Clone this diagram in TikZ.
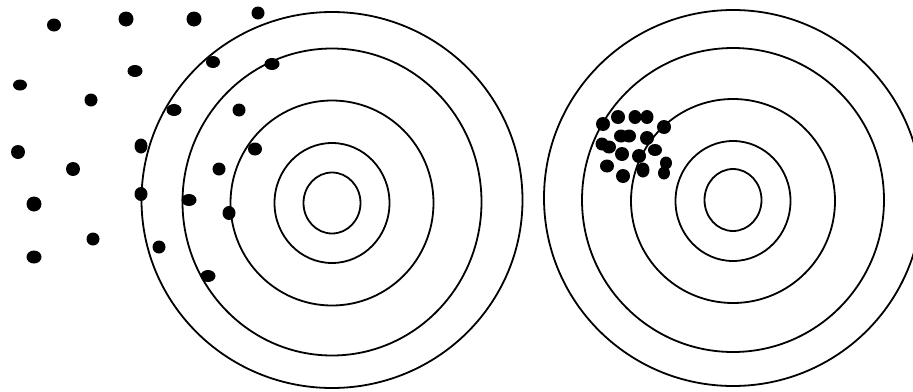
\documentclass[tikz,border=0pt]{standalone}
\usepackage{tikz}

\begin{document}
\begin{tikzpicture}[
    x=1pt, y=-1pt,
    ring/.style={draw=black, line width=1.8pt},
    shot/.style={fill=black}
]

% Canvas
\useasboundingbox (0,0) rectangle (913,391);
\clip (0,0) rectangle (913,391);

% Left Target (scattered shots)
\coordinate (lefttarget) at (332,203);
\foreach \dy/\rx/\ry in {0/28.5/30.5, 0/57.5/60, 0/101.5/102.5, -1/149.5/153.5, -3/190.5/188}
    \draw[ring] ([yshift=-\dy pt]lefttarget) ellipse ({\rx} and {\ry});

% Right Target (grouped shots)
\coordinate (righttarget) at (733,200);
\foreach \dy/\rx/\ry in {0/28.5/31, 1/57.5/60, 1/102/102, 0/151/152, -2/189/188}
    \draw[ring] ([yshift=-\dy pt]righttarget) ellipse ({\rx} and {\ry});

% Shots on the left
\foreach \x/\y/\a/\b in {54/25/7/6.5, 126/19/7.5/7.5, 194/19/7.5/7.5, 258/13/6.5/6.5,
    20/85/7/5.5, 135/71/7.5/6, 213/62/7/6, 272/64/7.5/6,
    91/100/6.5/6.5, 174/110/7.5/6, 239/110/6.5/6.5,
    18/152/7/7, 141/146/6.5/7.5, 255/149/7/6.5,
    73/169/7/7, 219/169/6.5/6.5,
    34/204/7.5/7.5, 141/194/6.5/7, 189/200/7.5/6, 229/213/6.5/7,
    93/239/6.5/6.5, 159/247/6.5/6.5, 34/257/7.5/6.5, 208/276/7.5/6}
    \fill[shot] (\x,\y) ellipse ({\a} and {\b});

% Shots on the right
\foreach \x/\y/\a/\b in {603/124/7/7, 618/117/7/7, 635/117/6.5/7, 647/117/6.5/7,
    664/127/7/7, 621/136/7/6.5, 629/136/7/6.5, 647/138/7/7,
    602/144/6.5/6.5, 609/147/7/6.5, 622/154/7/7, 639/156/7/7,
    655/150/7/6, 607/166/7/6.5, 623/176/7/7, 643/170/6.5/7.5,
    666/163/6/6.5, 664/173/6/6.5}
    \fill[shot] (\x,\y) ellipse ({\a} and {\b});

\end{tikzpicture}
\end{document}
